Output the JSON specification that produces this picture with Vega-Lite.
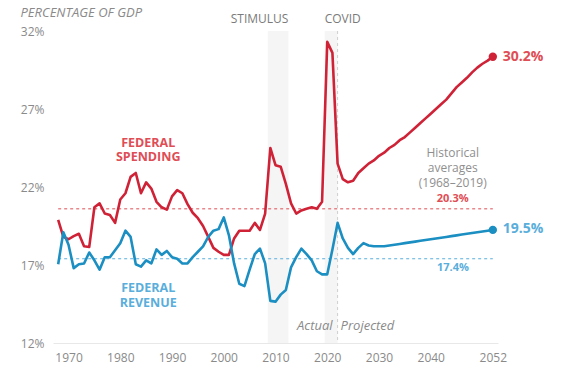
{
  "$schema": "https://vega.github.io/schema/vega-lite/v6.json",
  "width": 445,
  "height": 312,
  "autosize": {"type": "none"},
  "padding": {"left": 53, "top": 31, "right": 82, "bottom": 37},
  "background": "white",
  "config": {"view": {"stroke": null}, "font": "Open Sans"},
  "datasets": {
    "series": [
      {"year": 1968, "spending": 19.9, "revenue": 17.05},
      {"year": 1969, "spending": 18.8, "revenue": 19.1},
      {"year": 1970, "spending": 18.65, "revenue": 18.3},
      {"year": 1971, "spending": 18.85, "revenue": 16.8},
      {"year": 1972, "spending": 19.0, "revenue": 17.05},
      {"year": 1973, "spending": 18.2, "revenue": 17.1},
      {"year": 1974, "spending": 18.15, "revenue": 17.8},
      {"year": 1975, "spending": 20.7, "revenue": 17.3},
      {"year": 1976, "spending": 20.95, "revenue": 16.7},
      {"year": 1977, "spending": 20.3, "revenue": 17.5},
      {"year": 1978, "spending": 20.2, "revenue": 17.5},
      {"year": 1979, "spending": 19.7, "revenue": 17.95},
      {"year": 1980, "spending": 21.2, "revenue": 18.4},
      {"year": 1981, "spending": 21.6, "revenue": 19.2},
      {"year": 1982, "spending": 22.65, "revenue": 18.8},
      {"year": 1983, "spending": 22.9, "revenue": 17.05},
      {"year": 1984, "spending": 21.6, "revenue": 16.9},
      {"year": 1985, "spending": 22.3, "revenue": 17.3},
      {"year": 1986, "spending": 21.9, "revenue": 17.1},
      {"year": 1987, "spending": 21.05, "revenue": 18.0},
      {"year": 1988, "spending": 20.7, "revenue": 17.65},
      {"year": 1989, "spending": 20.55, "revenue": 17.9},
      {"year": 1990, "spending": 21.4, "revenue": 17.5},
      {"year": 1991, "spending": 21.8, "revenue": 17.4},
      {"year": 1992, "spending": 21.6, "revenue": 17.1},
      {"year": 1993, "spending": 20.9, "revenue": 17.1},
      {"year": 1994, "spending": 20.35, "revenue": 17.5},
      {"year": 1995, "spending": 20.0, "revenue": 17.85},
      {"year": 1996, "spending": 19.5, "revenue": 18.2},
      {"year": 1997, "spending": 18.8, "revenue": 18.8},
      {"year": 1998, "spending": 18.1, "revenue": 19.2},
      {"year": 1999, "spending": 17.85, "revenue": 19.3},
      {"year": 2000, "spending": 17.65, "revenue": 20.05},
      {"year": 2001, "spending": 17.65, "revenue": 18.9},
      {"year": 2002, "spending": 18.7, "revenue": 17.1},
      {"year": 2003, "spending": 19.2, "revenue": 15.8},
      {"year": 2004, "spending": 19.2, "revenue": 15.65},
      {"year": 2005, "spending": 19.2, "revenue": 16.7},
      {"year": 2006, "spending": 19.7, "revenue": 17.7},
      {"year": 2007, "spending": 19.25, "revenue": 18.05},
      {"year": 2008, "spending": 20.3, "revenue": 17.1},
      {"year": 2009, "spending": 24.5, "revenue": 14.7},
      {"year": 2010, "spending": 23.4, "revenue": 14.65},
      {"year": 2011, "spending": 23.3, "revenue": 15.1},
      {"year": 2012, "spending": 22.2, "revenue": 15.4},
      {"year": 2013, "spending": 20.95, "revenue": 16.85},
      {"year": 2014, "spending": 20.3, "revenue": 17.5},
      {"year": 2015, "spending": 20.5, "revenue": 18.05},
      {"year": 2016, "spending": 20.6, "revenue": 17.7},
      {"year": 2017, "spending": 20.7, "revenue": 17.3},
      {"year": 2018, "spending": 20.6, "revenue": 16.6},
      {"year": 2019, "spending": 21.05, "revenue": 16.4},
      {"year": 2020, "spending": 31.3, "revenue": 16.4},
      {"year": 2021, "spending": 30.6, "revenue": 18.0},
      {"year": 2022, "spending": 23.5, "revenue": 19.7},
      {"year": 2023, "spending": 22.5, "revenue": 18.7},
      {"year": 2024, "spending": 22.3, "revenue": 18.1},
      {"year": 2025, "spending": 22.4, "revenue": 17.7},
      {"year": 2026, "spending": 22.9, "revenue": 18.1},
      {"year": 2027, "spending": 23.2, "revenue": 18.4},
      {"year": 2028, "spending": 23.5, "revenue": 18.25},
      {"year": 2029, "spending": 23.7, "revenue": 18.2},
      {"year": 2030, "spending": 24.0, "revenue": 18.2},
      {"year": 2031, "spending": 24.2, "revenue": 18.2},
      {"year": 2032, "spending": 24.5, "revenue": 18.25},
      {"year": 2033, "spending": 24.7, "revenue": 18.3},
      {"year": 2034, "spending": 25.0, "revenue": 18.35},
      {"year": 2035, "spending": 25.2, "revenue": 18.4},
      {"year": 2036, "spending": 25.5, "revenue": 18.45},
      {"year": 2037, "spending": 25.8, "revenue": 18.5},
      {"year": 2038, "spending": 26.1, "revenue": 18.55},
      {"year": 2039, "spending": 26.4, "revenue": 18.6},
      {"year": 2040, "spending": 26.7, "revenue": 18.65},
      {"year": 2041, "spending": 27.0, "revenue": 18.7},
      {"year": 2042, "spending": 27.3, "revenue": 18.75},
      {"year": 2043, "spending": 27.6, "revenue": 18.8},
      {"year": 2044, "spending": 28.0, "revenue": 18.85},
      {"year": 2045, "spending": 28.4, "revenue": 18.9},
      {"year": 2046, "spending": 28.7, "revenue": 18.95},
      {"year": 2047, "spending": 29.0, "revenue": 19.0},
      {"year": 2048, "spending": 29.35, "revenue": 19.05},
      {"year": 2049, "spending": 29.65, "revenue": 19.1},
      {"year": 2050, "spending": 29.9, "revenue": 19.15},
      {"year": 2051, "spending": 30.1, "revenue": 19.2},
      {"year": 2052, "spending": 30.35, "revenue": 19.25}
    ],
    "bands": [
      {"start": 2008.5, "end": 2012.5},
      {"start": 2019.5, "end": 2022}
    ],
    "averages": [
      {"series": "spending", "value": 20.6, "from": 1968, "to": 2052},
      {"series": "revenue", "value": 17.4, "from": 1968, "to": 2052}
    ]
  },
  "layer": [
    {
      "data": {"name": "bands"},
      "mark": {"type": "rect", "color": "#f5f5f5"},
      "encoding": {
        "x": {"field": "start", "type": "quantitative"},
        "x2": {"field": "end"}
      }
    },
    {
      "data": {"values": [{"year": 2022}]},
      "mark": {"type": "rule", "color": "#cfcfcf", "strokeDash": [3, 3], "strokeWidth": 1},
      "encoding": {"x": {"field": "year", "type": "quantitative"}}
    },
    {
      "data": {"name": "averages"},
      "mark": {"type": "rule", "strokeDash": [3, 3], "strokeWidth": 1},
      "encoding": {
        "x": {"field": "from", "type": "quantitative"},
        "x2": {"field": "to"},
        "y": {"field": "value", "type": "quantitative"},
        "color": {"field": "series", "type": "nominal", "scale": {"domain": ["spending", "revenue"], "range": ["#df4d55", "#5aaedb"]}, "legend": null}
      }
    },
    {
      "data": {"name": "series"},
      "mark": {"type": "line", "color": "#cf2236", "strokeWidth": 2.6, "strokeJoin": "round"},
      "encoding": {
        "x": {
          "field": "year", "type": "quantitative",
          "scale": {"domain": [1967, 2053], "nice": false, "zero": false},
          "axis": {
            "title": null, "values": [1970, 1980, 1990, 2000, 2010, 2020, 2030, 2040, 2052],
            "format": "d", "ticks": false, "grid": false, "domainColor": "#e8e8e8",
            "labelColor": "#8a8a8a", "labelFontSize": 12, "labelPadding": 9
          }
        },
        "y": {
          "field": "spending", "type": "quantitative",
          "scale": {"domain": [12, 32], "nice": false, "zero": false},
          "axis": {
            "values": [12, 17, 22, 27, 32], "labelExpr": "datum.value + '%'",
            "domain": false, "ticks": false, "grid": false, "labelPadding": 9,
            "labelColor": "#8a8a8a", "labelFontSize": 12,
            "title": "PERCENTAGE OF GDP", "titleAngle": 0, "titleAlign": "left",
            "titleBaseline": "middle", "titleX": -33, "titleY": -19,
            "titleFontStyle": "italic", "titleFontWeight": "normal",
            "titleColor": "#8a8a8a", "titleFontSize": 13
          }
        }
      }
    },
    {
      "data": {"name": "series"},
      "mark": {"type": "line", "color": "#1b8ec2", "strokeWidth": 2.6, "strokeJoin": "round"},
      "encoding": {
        "x": {"field": "year", "type": "quantitative"},
        "y": {"field": "revenue", "type": "quantitative"}
      }
    },
    {
      "data": {"name": "series"},
      "transform": [{"filter": "datum.year == 2052"}],
      "mark": {"type": "point", "filled": true, "size": 70, "color": "#cf2236", "opacity": 1},
      "encoding": {
        "x": {"field": "year", "type": "quantitative"},
        "y": {"field": "spending", "type": "quantitative"}
      }
    },
    {
      "data": {"name": "series"},
      "transform": [{"filter": "datum.year == 2052"}],
      "mark": {"type": "point", "filled": true, "size": 70, "color": "#1b8ec2", "opacity": 1},
      "encoding": {
        "x": {"field": "year", "type": "quantitative"},
        "y": {"field": "revenue", "type": "quantitative"}
      }
    },
    {
      "data": {"values": [
        {"year": 2052, "v": 30.35, "t": "30.2%", "c": "spending"},
        {"year": 2052, "v": 19.3, "t": "19.5%", "c": "revenue"}
      ]},
      "mark": {"type": "text", "align": "left", "baseline": "middle", "dx": 10, "fontSize": 14, "fontWeight": "bold"},
      "encoding": {
        "x": {"field": "year", "type": "quantitative"},
        "y": {"field": "v", "type": "quantitative"},
        "text": {"field": "t"},
        "color": {"field": "c", "type": "nominal", "scale": {"domain": ["spending", "revenue"], "range": ["#cf2236", "#1b8ec2"]}, "legend": null}
      }
    },
    {
      "data": {"values": [
        {"year": 1985.4, "v": 24.84, "t": "FEDERAL\nSPENDING", "c": "spending"},
        {"year": 1985.4, "v": 15.5, "t": "FEDERAL\nREVENUE", "c": "revenue"}
      ]},
      "mark": {"type": "text", "align": "center", "baseline": "middle", "fontSize": 12.5, "fontWeight": "bold", "lineBreak": "\n", "lineHeight": 14.2},
      "encoding": {
        "x": {"field": "year", "type": "quantitative"},
        "y": {"field": "v", "type": "quantitative"},
        "text": {"field": "t"},
        "color": {"field": "c", "type": "nominal", "scale": {"domain": ["spending", "revenue"], "range": ["#cf2236", "#1b8ec2"]}, "legend": null}
      }
    },
    {
      "data": {"values": [
        {"year": 2044.25, "v": 21.23, "t": "20.3%", "c": "spending"},
        {"year": 2044.3, "v": 16.79, "t": "17.4%", "c": "revenue"}
      ]},
      "mark": {"type": "text", "align": "center", "baseline": "middle", "fontSize": 11, "fontWeight": "bold"},
      "encoding": {
        "x": {"field": "year", "type": "quantitative"},
        "y": {"field": "v", "type": "quantitative"},
        "text": {"field": "t"},
        "color": {"field": "c", "type": "nominal", "scale": {"domain": ["spending", "revenue"], "range": ["#cf2236", "#1b8ec2"]}, "legend": null}
      }
    },
    {
      "data": {"values": [
        {"year": 2044.25, "v": 24.16, "t": "Historical\naverages\n(1968–2019)"}
      ]},
      "mark": {"type": "text", "align": "center", "baseline": "middle", "fontSize": 12, "color": "#8f8f8f", "lineBreak": "\n", "lineHeight": 14.7},
      "encoding": {
        "x": {"field": "year", "type": "quantitative"},
        "y": {"field": "v", "type": "quantitative"},
        "text": {"field": "t"}
      }
    },
    {
      "data": {"values": [{"year": 2012.5, "v": 32.77, "t": "STIMULUS"}]},
      "mark": {"type": "text", "align": "right", "baseline": "middle", "fontSize": 12, "color": "#7a7a7a"},
      "encoding": {
        "x": {"field": "year", "type": "quantitative"},
        "y": {"field": "v", "type": "quantitative"},
        "text": {"field": "t"}
      }
    },
    {
      "data": {"values": [{"year": 2019.5, "v": 32.77, "t": "COVID"}]},
      "mark": {"type": "text", "align": "left", "baseline": "middle", "fontSize": 12, "color": "#7a7a7a"},
      "encoding": {
        "x": {"field": "year", "type": "quantitative"},
        "y": {"field": "v", "type": "quantitative"},
        "text": {"field": "t"}
      }
    },
    {
      "data": {"values": [{"year": 2022, "v": 13.1, "t": "Actual"}]},
      "mark": {"type": "text", "align": "right", "baseline": "middle", "dx": -5, "fontSize": 13, "fontStyle": "italic", "color": "#8a8a8a"},
      "encoding": {
        "x": {"field": "year", "type": "quantitative"},
        "y": {"field": "v", "type": "quantitative"},
        "text": {"field": "t"}
      }
    },
    {
      "data": {"values": [{"year": 2022, "v": 13.1, "t": "Projected"}]},
      "mark": {"type": "text", "align": "left", "baseline": "middle", "dx": 3, "fontSize": 13, "fontStyle": "italic", "color": "#8a8a8a"},
      "encoding": {
        "x": {"field": "year", "type": "quantitative"},
        "y": {"field": "v", "type": "quantitative"},
        "text": {"field": "t"}
      }
    }
  ]
}
